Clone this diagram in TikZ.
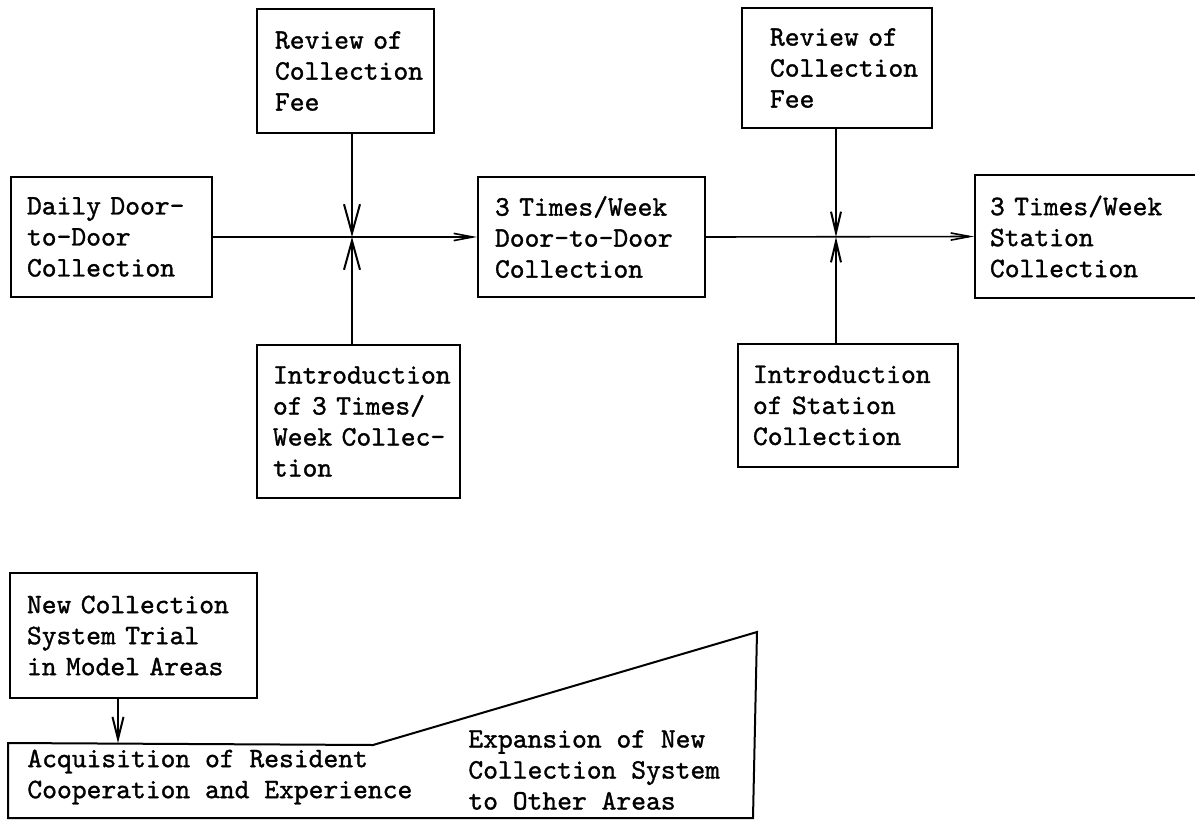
\documentclass[tikz,border=0pt]{standalone}
\usepackage{fontspec}
\newfontfamily\typewriter{lmmono10-regular.otf}[FakeBold=1.2, WordSpace={1,0,0}]
\usetikzlibrary{arrows.meta}
\hyphenpenalty=10000
\exhyphenpenalty=10000

\begin{document}
\begin{tikzpicture}[x=0.5pt,y=-0.5pt,
  tw/.style={font=\typewriter\fontsize{14.1}{15.5}\selectfont},
  box/.style={draw, line width=1pt, rectangle, inner sep=0pt, align=left, tw},
  txt/.style={inner sep=0pt, align=left, anchor=west, tw},
  link/.style={line width=1pt},
  flow/.style={line width=0.8pt, -{Straight Barb[length=9.5pt,width=3.6pt]}},
  bigtip/.style={link, -{Straight Barb[length=14.5pt,width=8pt]}},
  smalltip/.style={link, -{Straight Barb[length=10.5pt,width=5pt]}},
  droptip/.style={link, -{Straight Barb[length=11pt,width=5.5pt]}}
]
\useasboundingbox (0,0) rectangle (1195,820);
\clip (0,0) rectangle (1195,820);

% stages of the collection system
\node[box, minimum width=100.5pt, minimum height=60pt, text width=84.5pt]
  (daily) at (111.5,237) {Daily~Door-\\to-Door\\Collection};
\node[box, minimum width=113.5pt, minimum height=60pt, text width=96.5pt]
  (dtd3) at (591.5,237) {3~Times/Week\\Door-to-Door\\Collection};
\node[box, minimum width=120pt, minimum height=61.5pt, text width=105pt]
  (st3) at (1095,236.5) {3~Times/Week\\Station\\Collection};

% measures feeding each transition
\node[box, minimum width=88.5pt, minimum height=62pt, text width=70.5pt]
  (rev1) at (345.5,71) {Review~of\\Collection\\Fee};
\node[box, minimum width=101.5pt, minimum height=76.5pt, text width=85.5pt]
  (intro1) at (358.5,421.5) {Introduction\\of~3~Times/\\Week~Collec-\\tion};
\node[box, minimum width=95pt, minimum height=60pt, text width=67pt]
  (rev2) at (837,68) {Review~of\\Collection\\Fee};
\node[box, minimum width=110pt, minimum height=61.5pt, text width=95pt]
  (intro2) at (848,405.5) {Introduction\\of~Station\\Collection};

% junctions on the main line
\coordinate (j1) at (352,237);
\coordinate (j2) at (836,237);

\draw[flow] (daily.east) -- (dtd3.west);
\draw[flow] (dtd3.east) -- (st3.west);

\draw[bigtip] (rev1.south -| j1) -- (j1);
\draw[bigtip] (intro1.north -| j1) -- (j1);
\draw[smalltip] (rev2.south -| j2) -- (j2);
\draw[smalltip] (intro2.north -| j2) -- (j2);

% rollout of the new system
\node[box, minimum width=123.5pt, minimum height=62.5pt, text width=106.5pt]
  (trial) at (133.5,635.5) {New~Collection\\System~Trial\\in~Model~Areas};

\coordinate (pa) at (8,743);
\coordinate (acqtop) at (118,743);
\coordinate (pb) at (373,745);
\coordinate (pc) at (757,632);
\coordinate (pd) at (753,818);
\coordinate (pe) at (8,818);
\draw[link] (pa) -- (pb) -- (pc) -- (pd) -- (pe) -- cycle;

\node[txt] (acq) at (27,777) {Acquisition of Resident\\Cooperation and Experience};
\node[txt] (expand) at (468,770) {Expansion of New\\Collection System\\to Other Areas};

\draw[droptip] (trial.south -| acqtop) -- (acqtop);
\end{tikzpicture}
\end{document}
